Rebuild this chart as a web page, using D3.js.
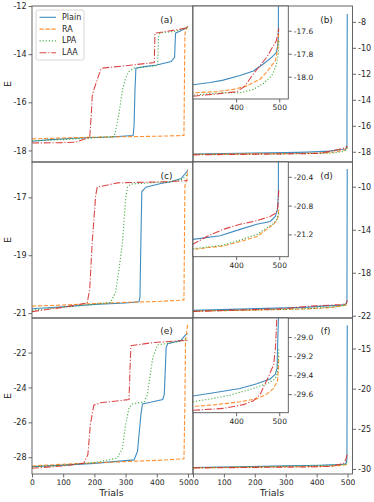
<!DOCTYPE html>
<html><head><meta charset="utf-8">
<script src="https://cdn.jsdelivr.net/npm/d3@7"></script>
<style>
body{margin:0;background:#fff}
svg{display:block}
text{font-family:"DejaVu Sans",sans-serif;fill:#262626}
</style>
</head><body>
<svg id="c" width="374" height="502"></svg>
<script>
const seriesNames = ["Plain","RA","LPA","LAA"];
const seriesColors = ["#1f77b4","#ff7f0e","#2ca02c","#d62728"];
const seriesDash = [null,"4.2,1.8","1.2,1.9","7,1.8,1.2,1.8"];

// ---- panel (a) ----
const a_Plain = [[0,-17.62],[60,-17.55],[150,-17.48],[250,-17.44],[324,-17.38],[327,-17.0],[330,-15.5],[333,-14.58],[360,-14.52],[400,-14.45],[446,-14.31],[457,-14.13],[460,-13.13],[494,-12.92],[499,-12.85]];
const a_RA = [[0,-17.52],[100,-17.48],[200,-17.45],[300,-17.43],[400,-17.41],[487,-17.38],[490,-13.2],[493,-12.99],[499,-12.85]];
const a_LPA = [[0,-17.6],[100,-17.55],[200,-17.47],[263,-17.42],[268,-17.2],[279,-16.44],[290,-15.48],[300,-14.99],[311,-14.72],[327,-14.58],[403,-14.48],[405,-13.3],[410,-13.12],[460,-13.05],[494,-12.92],[499,-12.85]];
const a_LAA = [[0,-17.69],[80,-17.68],[139,-17.66],[185,-17.45],[190,-16.5],[193,-15.75],[198,-15.48],[209,-15.06],[220,-14.65],[225,-14.58],[300,-14.48],[392,-14.35],[394,-13.13],[410,-13.1],[494,-12.92],[499,-12.85]];

// ---- panel (c) ----
const c_Plain = [[0,-20.85],[100,-20.78],[200,-20.7],[300,-20.65],[343,-20.61],[346,-20.45],[349,-18.5],[352,-16.8],[365,-16.65],[413,-16.52],[446,-16.46],[478,-16.35],[497,-16.1],[499,-16.05]];
const c_RA = [[0,-20.76],[100,-20.72],[200,-20.67],[300,-20.63],[400,-20.6],[487,-20.55],[490,-16.6],[496,-16.4],[499,-16.05]];
const c_LPA = [[0,-20.9],[100,-20.8],[200,-20.7],[252,-20.63],[268,-20.28],[279,-19.48],[290,-18.55],[300,-17.06],[306,-16.65],[317,-16.54],[441,-16.46],[480,-16.38],[499,-16.2]];
const c_LAA = [[0,-20.95],[100,-20.8],[177,-20.65],[185,-20.17],[193,-18.55],[204,-16.95],[209,-16.65],[274,-16.5],[441,-16.46],[499,-16.42]];

// ---- panel (e) ----
const e_Plain = [[0,-28.54],[100,-28.45],[200,-28.35],[327,-28.15],[338,-27.67],[343,-26.71],[349,-25.56],[354,-24.94],[380,-24.85],[419,-24.69],[424,-24.4],[430,-21.71],[435,-21.5],[478,-21.29],[494,-20.95],[499,-20.9]];
const e_RA = [[0,-28.5],[100,-28.4],[200,-28.32],[300,-28.25],[400,-28.18],[487,-28.09],[490,-25],[492,-21.33],[499,-20.37]];
const e_LPA = [[0,-28.55],[100,-28.45],[200,-28.3],[273,-28.05],[290,-27.48],[300,-26.13],[311,-25.17],[322,-24.94],[360,-24.82],[370,-24.4],[387,-22.29],[403,-21.56],[478,-21.35],[499,-21.15]];
const e_LAA = [[0,-28.63],[100,-28.5],[166,-28.34],[179,-27.86],[187,-26.13],[198,-25.02],[220,-24.88],[311,-24.69],[314,-23],[317,-21.61],[392,-21.42],[499,-21.3]];

// ---- panel (b) ----
const b_Plain = [[0,-18.17],[150,-18.12],[299,-18.07],[340,-18.05],[370,-18.03],[409,-17.99],[440,-17.95],[463,-17.89],[483,-17.83],[493,-17.79],[496,-17.74],[498,-17.66],[499,-7.4]];
const b_RA = [[0,-18.2],[150,-18.17],[299,-18.14],[355,-18.13],[394,-18.11],[425,-18.08],[456,-18.02],[471,-17.96],[483,-17.9],[491,-17.86],[496,-17.77],[499,-17.6]];
const b_LPA = [[0,-18.21],[150,-18.19],[299,-18.16],[370,-18.14],[409,-18.14],[440,-18.11],[463,-18.06],[483,-17.99],[493,-17.9],[498,-17.8],[499,-17.69]];
const b_LAA = [[0,-18.24],[150,-18.2],[299,-18.17],[355,-18.15],[402,-18.13],[421,-18.08],[437,-17.99],[452,-17.92],[471,-17.83],[485,-17.74],[493,-17.69],[499,-17.58]];

// ---- panel (d) ----
const d_Plain = [[0,-21.5],[150,-21.38],[299,-21.27],[363,-21.22],[409,-21.13],[448,-21.06],[479,-21.02],[491,-20.95],[496,-20.85],[498,-20.62],[499,-8.35]];
const d_RA = [[0,-21.58],[150,-21.5],[299,-21.41],[370,-21.36],[409,-21.3],[448,-21.23],[471,-21.13],[487,-21.06],[496,-20.99],[499,-20.85]];
const d_LPA = [[0,-21.57],[150,-21.49],[299,-21.4],[370,-21.35],[409,-21.28],[448,-21.2],[471,-21.11],[487,-21.05],[496,-20.98],[499,-20.9]];
const d_LAA = [[0,-21.6],[150,-21.47],[299,-21.34],[332,-21.23],[370,-21.13],[409,-21.06],[448,-21.01],[479,-20.95],[493,-20.9],[497,-20.81],[499,-20.57]];

// ---- panel (f) ----
const f_Plain = [[0,-29.82],[150,-29.72],[299,-29.62],[370,-29.57],[409,-29.54],[448,-29.49],[479,-29.44],[491,-29.39],[495,-29.33],[496,-29.12],[498,-28.83],[499,-12.1]];
const f_RA = [[0,-29.86],[150,-29.8],[299,-29.73],[355,-29.71],[409,-29.68],[448,-29.65],[471,-29.6],[487,-29.54],[496,-29.46],[498,-29.33],[499,-29.2]];
const f_LPA = [[0,-29.84],[150,-29.76],[299,-29.68],[340,-29.65],[386,-29.61],[433,-29.55],[471,-29.49],[491,-29.44],[496,-29.37],[498,-29.23],[499,-29.12]];
const f_LAA = [[0,-29.88],[150,-29.83],[299,-29.77],[370,-29.75],[417,-29.71],[440,-29.67],[456,-29.6],[467,-29.49],[475,-29.42],[483,-29.33],[487,-29.3],[491,-29.12],[493,-28.95],[496,-28.6],[499,-28.1]];

// ticks
const trialTicks = [0,100,200,300,400,500];
const insetXTicks = [400,500];
const aTicks = [-12,-14,-16,-18];
const cTicks = [-17,-19,-21];
const eTicks = [-22,-24,-26,-28];
const bTicks = [-8,-10,-12,-14,-16,-18];
const dTicks = [-10,-14,-18,-22];
const fTicks = [-15,-20,-25,-30];
const bInsetTicks = [-17.6,-17.8,-18.0];
const dInsetTicks = [-20.4,-20.8,-21.2];
const fInsetTicks = [-29.0,-29.2,-29.4,-29.6];

const svg = d3.select("#c");
let clipId = 0;
const FS = 8;

function fmt(dec){ return d => dec ? d.toFixed(dec) : String(d); }

function styleAxis(g){
  g.selectAll("path.domain").remove();
  g.selectAll("line").attr("stroke","#444").attr("stroke-width",0.8);
  g.selectAll("text").attr("font-size",FS).attr("fill","#262626").attr("font-family","DejaVu Sans");
}

function panel(o){
  const xs = d3.scaleLinear().domain(o.xd).range([o.x0,o.x1]);
  const ys = d3.scaleLinear().domain(o.yd).range([o.y1,o.y0]);
  const g = svg.append("g");
  if(o.bg) g.append("rect").attr("x",o.x0).attr("y",o.y0).attr("width",o.x1-o.x0).attr("height",o.y1-o.y0).attr("fill","#fff");
  const id = "clip"+(clipId++);
  g.append("clipPath").attr("id",id).append("rect").attr("x",o.x0).attr("y",o.y0).attr("width",o.x1-o.x0).attr("height",o.y1-o.y0);
  const lg = g.append("g").attr("clip-path",`url(#${id})`);
  const line = d3.line().x(d=>xs(d[0])).y(d=>ys(d[1]));
  o.data.forEach((arr,i)=>{
    lg.append("path").attr("d",line(arr)).attr("fill","none")
      .attr("stroke",seriesColors[i]).attr("stroke-width",1.1).attr("stroke-opacity",0.85)
      .attr("stroke-dasharray",seriesDash[i]);
  });
  const yAx = (o.ySide==="left"? d3.axisLeft(ys) : d3.axisRight(ys))
     .tickValues(o.yTicks).tickFormat(fmt(o.yDec||0)).tickSize(3.5).tickPadding(2).tickSizeOuter(0);
  const ya = g.append("g").attr("transform",`translate(${o.ySide==="left"?o.x0:o.x1},0)`).call(yAx);
  styleAxis(ya);
  if(o.yFs) ya.selectAll("text").attr("font-size",o.yFs);
  if(o.xTicks){
    const xAx = d3.axisBottom(xs).tickValues(o.xTicks).tickFormat(d=>String(d)).tickSize(3.5).tickPadding(2).tickSizeOuter(0);
    const xa = g.append("g").attr("transform",`translate(0,${o.y1})`).call(xAx);
    styleAxis(xa);
    if(o.xFs) xa.selectAll("text").attr("font-size",o.xFs);
    if(o.nudge) xa.selectAll(".tick text").attr("dx",d=>o.nudge[d]||0);
  }
  g.append("rect").attr("x",o.x0).attr("y",o.y0).attr("width",o.x1-o.x0).attr("height",o.y1-o.y0)
    .attr("fill","none").attr("stroke","#555").attr("stroke-width",0.9);
  if(o.label){
    g.append("text").attr("x",o.lx).attr("y",o.ly).attr("text-anchor","middle").attr("dominant-baseline","middle")
      .attr("font-size",9).text(o.label);
  }
  return {xs,ys,g};
}

const LX0=32, LX1=193, RX0=193, RX1=352.5;
const rows = [[6,162],[162,318],[318,474]];
const mainXD = [0,516];
const insetXD = [300,521];

// Left panels
panel({x0:LX0,x1:LX1,y0:rows[0][0],y1:rows[0][1],xd:mainXD,yd:[-18.48,-12],data:[a_Plain,a_RA,a_LPA,a_LAA],ySide:"left",yTicks:aTicks,label:"(a)",lx:166.5,ly:20});
panel({x0:LX0,x1:LX1,y0:rows[1][0],y1:rows[1][1],xd:mainXD,yd:[-21.17,-15.78],data:[c_Plain,c_RA,c_LPA,c_LAA],ySide:"left",yTicks:cTicks,label:"(c)",lx:166.5,ly:176});
panel({x0:LX0,x1:LX1,y0:rows[2][0],y1:rows[2][1],xd:mainXD,yd:[-28.96,-20.02],data:[e_Plain,e_RA,e_LPA,e_LAA],ySide:"left",yTicks:eTicks,xTicks:trialTicks,xFs:7.6,nudge:{500:-2.2},label:"(e)",lx:166.5,ly:331.5});

// Right panels
panel({x0:RX0,x1:RX1,y0:rows[0][0],y1:rows[0][1],xd:mainXD,yd:[-18.79,-6.78],data:[b_Plain,b_RA,b_LPA,b_LAA],ySide:"right",yTicks:bTicks,label:"(b)",lx:326.5,ly:20});
panel({x0:RX0,x1:RX1,y0:rows[1][0],y1:rows[1][1],xd:mainXD,yd:[-22.21,-7.7],data:[d_Plain,d_RA,d_LPA,d_LAA],ySide:"right",yTicks:dTicks,label:"(d)",lx:326.5,ly:176});
panel({x0:RX0,x1:RX1,y0:rows[2][0],y1:rows[2][1],xd:mainXD,yd:[-30.63,-11.2],data:[f_Plain,f_RA,f_LPA,f_LAA],ySide:"right",yTicks:fTicks,xTicks:trialTicks,xFs:7.6,nudge:{0:2.8},label:"(f)",lx:325.5,ly:331.5});

// Insets
const IX0=193, IX1=288.3;
panel({bg:true,x0:IX0,x1:IX1,y0:6,y1:99,xd:insetXD,yd:[-18.194,-17.385],data:[b_Plain,b_RA,b_LPA,b_LAA],ySide:"right",yTicks:bInsetTicks,yDec:1,xTicks:insetXTicks,yFs:7.5,xFs:7.5});
panel({bg:true,x0:IX0,x1:IX1,y0:162,y1:256.7,xd:insetXD,yd:[-21.51,-20.194],data:[d_Plain,d_RA,d_LPA,d_LAA],ySide:"right",yTicks:dInsetTicks,yDec:1,xTicks:insetXTicks,yFs:7.5,xFs:7.5});
panel({bg:true,x0:IX0,x1:IX1,y0:318,y1:412.7,xd:insetXD,yd:[-29.795,-28.80],data:[f_Plain,f_RA,f_LPA,f_LAA],ySide:"right",yTicks:fInsetTicks,yDec:1,xTicks:insetXTicks,yFs:7.5,xFs:7.5});

// Axis titles
[84,240,396].forEach(cy=>{
  svg.append("text").attr("transform",`translate(8,${cy}) rotate(-90)`).attr("text-anchor","middle")
    .attr("dominant-baseline","middle").attr("font-size",9.5).text("E");
});
svg.append("text").attr("x",111.5).attr("y",493).attr("text-anchor","middle").attr("dominant-baseline","middle").attr("font-size",9.5).text("Trials");
svg.append("text").attr("x",272).attr("y",493).attr("text-anchor","middle").attr("dominant-baseline","middle").attr("font-size",9.5).text("Trials");

// Legend
const leg = svg.append("g");
leg.append("rect").attr("x",36).attr("y",10).attr("width",48).attr("height",50).attr("rx",2)
  .attr("fill","#fff").attr("fill-opacity",0.8).attr("stroke","#ccc").attr("stroke-width",0.8);
seriesNames.forEach((n,i)=>{
  const yy = 17.3 + i*11.8;
  leg.append("line").attr("x1",39.5).attr("x2",56).attr("y1",yy).attr("y2",yy)
    .attr("stroke",seriesColors[i]).attr("stroke-width",1.1).attr("stroke-opacity",0.85).attr("stroke-dasharray",seriesDash[i]);
  leg.append("text").attr("x",62).attr("y",yy).attr("dominant-baseline","middle").attr("font-size",8).text(n);
});
</script>
</body></html>
